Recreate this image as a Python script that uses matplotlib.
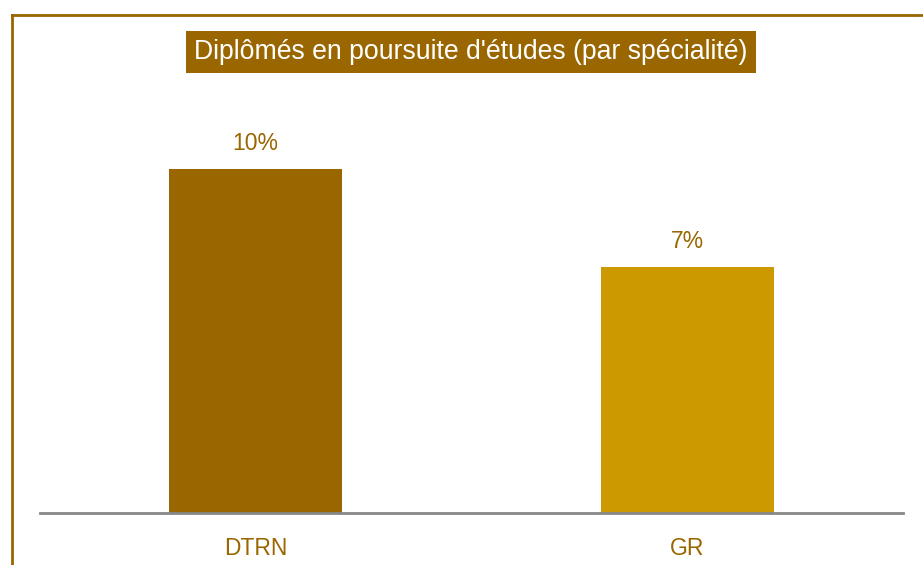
import matplotlib
matplotlib.use("Agg")
import matplotlib.pyplot as plt
from matplotlib.lines import Line2D

plt.rcParams['font.family'] = ['Liberation Sans', 'DejaVu Sans']

categories = ['DTRN', 'GR']
values = [10.0, 7.15]
labels = ['10%', '7%']
colors = ['#996600', '#CC9900']
title = "Diplômés en poursuite d'études (par spécialité)"
brown = '#996600'

fig = plt.figure(figsize=(9.23, 5.65), dpi=100)
ax = fig.add_axes([40 / 923, 52 / 565, 863 / 923, 413 / 565])

x = range(len(categories))
bars = ax.bar(x, values, width=0.4, color=colors)
for b, lab in zip(bars, labels):
    ax.annotate(lab, (b.get_x() + b.get_width() / 2, b.get_height()),
                xytext=(0, 10), textcoords='offset points',
                ha='center', va='bottom', fontsize=16.5, color=brown)

ax.set_xlim(-0.5, 1.5)
ax.set_ylim(0, 12)
ax.set_xticks(list(x))
ax.set_xticklabels(categories, fontsize=16.5, color=brown)
ax.tick_params(axis='x', length=0, pad=17)
ax.set_yticks([])
for s in ['top', 'right', 'left']:
    ax.spines[s].set_visible(False)
ax.spines['bottom'].set_color('#888888')
ax.spines['bottom'].set_linewidth(2)

fig.text(471 / 923, 1 - 52 / 565, title, ha='center', va='center',
         fontsize=19.2, color='white',
         bbox=dict(boxstyle='square,pad=0.3', fc=brown, ec='none'))

# outer frame (only top and left edges visible)
fig.add_artist(Line2D([11.5 / 923, 1], [1 - 14.5 / 565] * 2, color=brown, lw=2))
fig.add_artist(Line2D([11.5 / 923] * 2, [0, 1 - 14.5 / 565], color=brown, lw=2))

fig.savefig('out.png', dpi=100)
